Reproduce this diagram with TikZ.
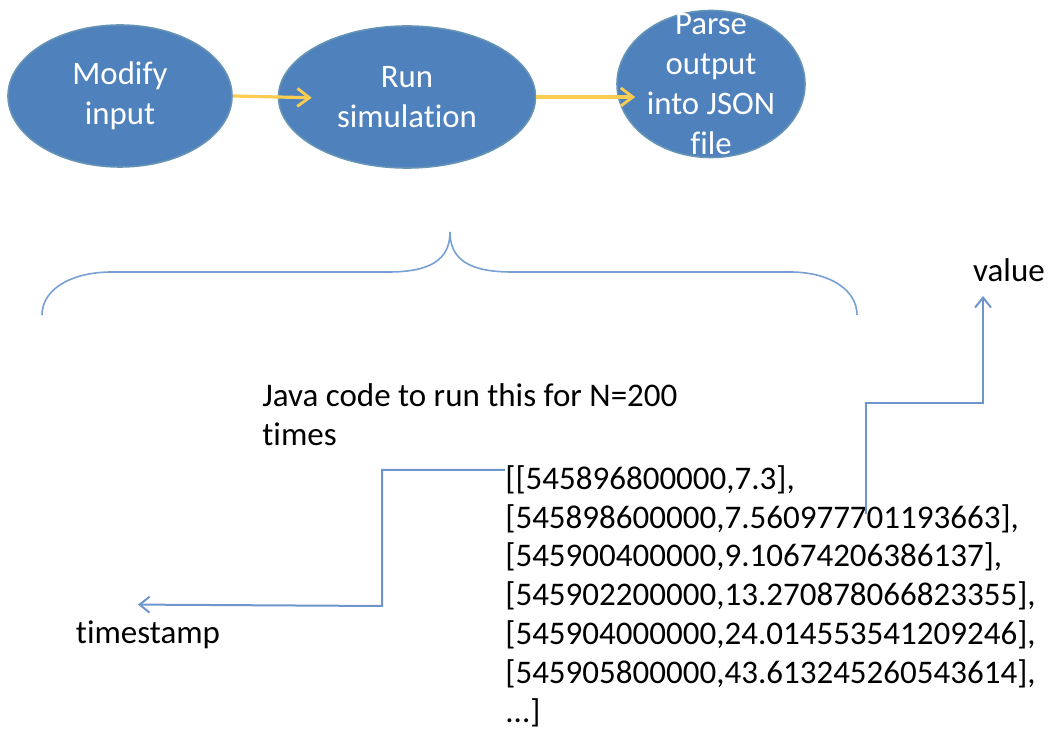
\documentclass[tikz,border=0pt]{standalone}
\usepackage{fontspec}
\setmainfont{Carlito}[Ligatures=CommonOff]
\usetikzlibrary{%
  arrows.meta,%
  shapes.geometric,% ellipse
  positioning%
}

\begin{document}
\begin{tikzpicture}[x=0.5pt,y=-0.5pt,process/.style={
	ellipse,
	inner sep=-20pt,
	thick,
	draw=blue!30!black!70!cyan!60,
	fill={rgb,255:red,79;green,129;blue,189},
	text=white,
	align=center,
	font=\fontsize{16.4pt}{20pt}\selectfont
	},flow/.style={
	line width=1.6pt,
	draw={rgb,255:red,252;green,205;blue,80},
	-{Straight Barb[length=6pt,width=9pt,line width=1.4pt]}
	},link/.style={
	line width=1pt,
	draw={rgb,255:red,110;green,150;blue,205},
	-{Straight Barb[length=5pt,width=8pt]}
	},plain/.style={
	inner sep=0pt,
	align=left,
	font=\fontsize{16.5pt}{19.4pt}\selectfont
	}
]
\useasboundingbox (0,0) rectangle (1049,731);

% pipeline
\node (modify) [process,minimum width=112pt,minimum height=71pt] at (120,96) {Modify\\input};
\node (run) [process,minimum width=128.5pt,minimum height=71pt] at (407,97) {Run\\simulation};
\node (parse) [process,minimum width=94pt,minimum height=73.5pt] at (711,84) {Parse\\output\\into JSON\\file};

\draw[flow,shorten >=-17pt] (modify.east) -- (run.west);
\draw[flow,shorten >=-9.5pt] (run.east) -- (run.east -| parse.west);

% brace
\draw[line width=0.8pt,draw={rgb,255:red,120;green,160;blue,210}]
	(42,315) .. controls (42,290) and (70,272) .. (112,272) -- (388,272)
	.. controls (430,272) and (450,260) .. (450,232)
	.. controls (450,260) and (470,272) .. (512,272) -- (790,272)
	.. controls (830,272) and (857,290) .. (857,315);

% texts
\node (java) [plain,anchor=north west] at (262,383) {Java code to run this for N=200\\times};
\node (data) [plain,anchor=north west] at (505,465) {{[[}545896800000,7.3],\\
{[}545898600000,7.560977701193663],\\
{[}545900400000,9.10674206386137],\\
{[}545902200000,13.270878066823355],\\
{[}545904000000,24.014553541209246],\\
{[}545905800000,43.613245260543614],\\
...]};
\node (timestamp) [plain] at (148,635) {timestamp};
\node (value) [plain] at (1009,270) {value};

% connectors
\coordinate (valfrom) at (866,514);
\draw[link] ([yshift=-2.5pt]data.north west) -| (382,606) -- ([xshift=-5pt,yshift=8pt]timestamp.north);
\draw[link] (valfrom) |- (983,403) -- ([xshift=-13pt,yshift=-7pt]value.south);

\end{tikzpicture}
\end{document}
